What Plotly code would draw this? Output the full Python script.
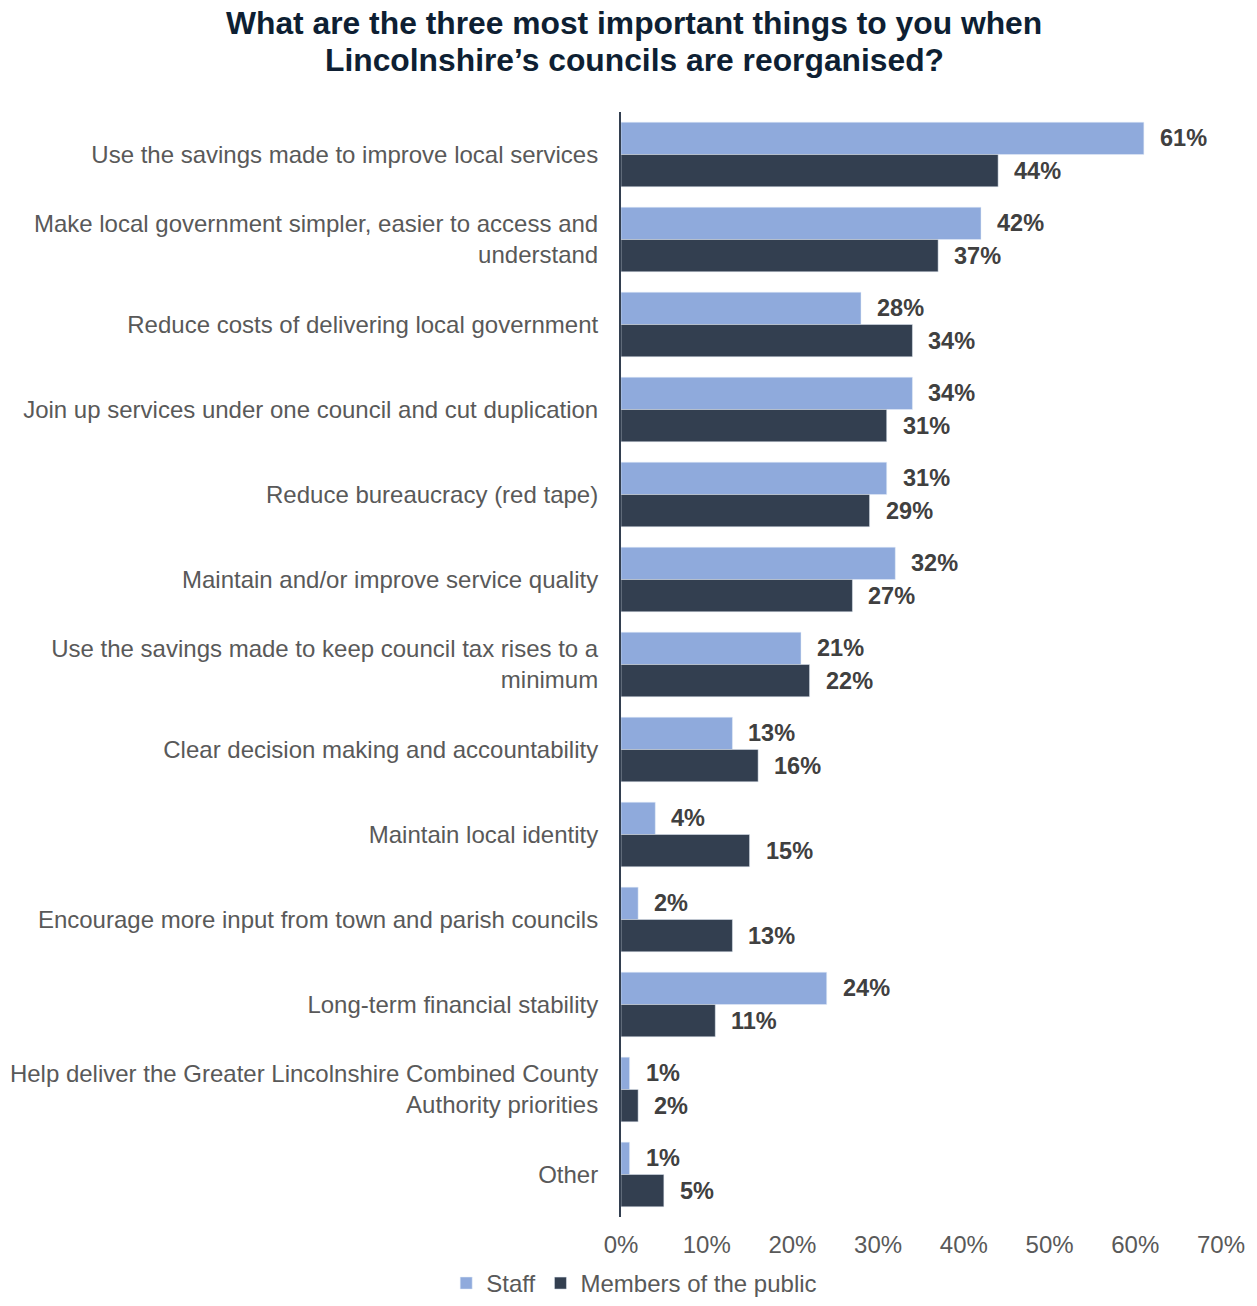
import plotly.graph_objects as go

# Survey answers, top to bottom
categories = [
    "Use the savings made to improve local services",
    "Make local government simpler, easier to access and<br>understand",
    "Reduce costs of delivering local government",
    "Join up services under one council and cut duplication",
    "Reduce bureaucracy (red tape)",
    "Maintain and/or improve service quality",
    "Use the savings made to keep council tax rises to a<br>minimum",
    "Clear decision making and accountability",
    "Maintain local identity",
    "Encourage more input from town and parish councils",
    "Long-term financial stability",
    "Help deliver the Greater Lincolnshire Combined County<br>Authority priorities",
    "Other",
]
staff = [61, 42, 28, 34, 31, 32, 21, 13, 4, 2, 24, 1, 1]
public = [44, 37, 34, 31, 29, 27, 22, 16, 15, 13, 11, 2, 5]

x_ticks = [0, 10, 20, 30, 40, 50, 60, 70]

title_lines = [
    "What are the three most important things to you when",
    "Lincolnshire’s councils are reorganised?",
]

STAFF_COLOR = "#8faadc"
PUBLIC_COLOR = "#333f50"
LABEL_COLOR = "#404040"
TEXT_COLOR = "#595959"
FONT = "Liberation Sans, Arial, sans-serif"

positions = list(range(len(categories)))
bar_w = 0.38

fig = go.Figure()
fig.add_trace(go.Bar(
    name="Staff", y=positions, x=staff, orientation="h",
    marker=dict(color=STAFF_COLOR), width=bar_w, offset=-bar_w,
))
fig.add_trace(go.Bar(
    name="Members of the public", y=positions, x=public, orientation="h",
    marker=dict(color=PUBLIC_COLOR), width=bar_w, offset=0,
))

# Value labels next to each bar end
annotations = []
for i, (s, p) in enumerate(zip(staff, public)):
    for val, yc in ((s, i - bar_w / 2), (p, i + bar_w / 2)):
        annotations.append(dict(
            x=val, y=yc, xref="x", yref="y", text=f"<b>{val}%</b>",
            showarrow=False, xanchor="left", yanchor="middle", xshift=14,
            font=dict(family=FONT, size=23.5, color=LABEL_COLOR),
        ))

# Two-line bold heading
for line, ypos in zip(title_lines, (1.0805, 1.0471)):
    annotations.append(dict(
        x=0.0217, y=ypos, xref="paper", yref="paper", text=f"<b>{line}</b>",
        showarrow=False, xanchor="center", yanchor="middle",
        font=dict(family=FONT, size=31.8, color="#0e1f33"),
    ))

fig.update_layout(
    width=1257, height=1306,
    margin=dict(l=621, r=36, t=112, b=89, autoexpand=False),
    paper_bgcolor="white", plot_bgcolor="white",
    font=dict(family=FONT, color=TEXT_COLOR),
    showlegend=True,
    legend=dict(
        orientation="h", x=0.022, xanchor="center", y=-0.0805, yanchor="bottom",
        font=dict(family=FONT, size=24, color=TEXT_COLOR),
        itemwidth=30, traceorder="normal",
    ),
    annotations=annotations,
)
fig.update_xaxes(
    range=[0, 70], tickvals=x_ticks, ticktext=[f"{t}%" for t in x_ticks],
    showgrid=False, zeroline=False, showline=False,
    tickfont=dict(family=FONT, size=24, color=TEXT_COLOR), ticklen=0,
    ticklabelstandoff=11,
)
fig.update_yaxes(
    tickvals=positions, ticktext=categories, range=[len(categories) - 0.5, -0.5],
    showgrid=False, zeroline=False, showline=True, linecolor="#333f50", linewidth=2,
    tickfont=dict(family=FONT, size=24, color=TEXT_COLOR), ticks="", ticklabelstandoff=16,
)

fig.write_html("out.html")
